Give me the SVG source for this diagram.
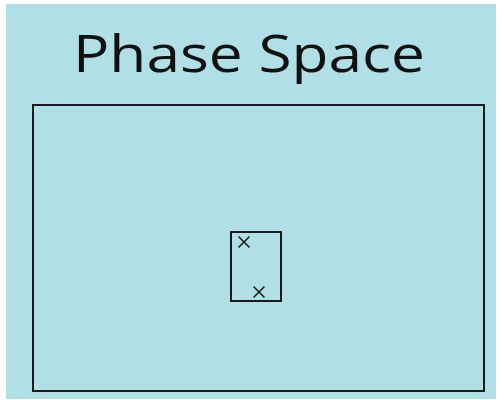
<svg xmlns="http://www.w3.org/2000/svg" width="499" height="400" viewBox="0 0 499 400">
<style>
.box{fill:none;stroke:#1a1a1a;stroke-width:2}
.x{stroke:#1a1a1a;stroke-width:1.6;stroke-linecap:round}
.title{font-family:"Open Sans","Liberation Sans",sans-serif;font-size:52px;fill:#111}
</style>
<rect x="0" y="0" width="499" height="400" fill="#ffffff"/>
<rect x="6" y="4" width="490" height="395" fill="#b0dfe5"/>
<text class="title" x="73" y="72" textLength="352" lengthAdjust="spacingAndGlyphs">Phase Space</text>
<g id="phase-space">
<rect class="box" x="33" y="105" width="451" height="286"/>
</g>
<g id="region">
<rect class="box" x="231" y="232" width="50" height="69"/>
<path class="x" d="M239 237 L249 247 M249 237 L239 247"/>
<path class="x" d="M254 287 L264 297 M264 287 L254 297"/>
</g>
<g id="connectors"></g>
</svg>
